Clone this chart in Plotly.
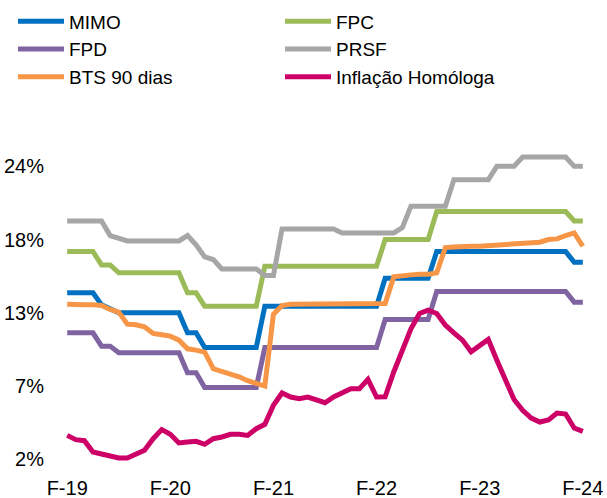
import plotly.graph_objects as go

years_months = [(2019 + (1 + i) // 12, (1 + i) % 12 + 1) for i in range(61)]
months = [f"{y}-{m:02d}" for y, m in years_months]

tick_months = ["2019-02", "2020-02", "2021-02", "2022-02", "2023-02", "2024-02"]
tick_labels = ["F-19", "F-20", "F-21", "F-22", "F-23", "F-24"]

y_ticks = [2, 7.5, 13, 18.5, 24]
y_tick_labels = ["2%", "7%", "13%", "18%", "24%"]

mimo = [14.5, 14.5, 14.5, 14.5, 13.6, 13.3,
        13.0, 13.0, 13.0, 13.0, 13.0, 13.0, 13.0, 13.0,
        11.5, 11.5,
        10.4, 10.4, 10.4, 10.4, 10.4, 10.4, 10.4,
        13.5, 13.5, 13.5, 13.5, 13.5, 13.5, 13.5, 13.5, 13.5, 13.5, 13.5, 13.5, 13.5, 13.5,
        15.6, 15.6, 15.6, 15.6, 15.6, 15.6,
        17.6, 17.6, 17.6, 17.6, 17.6, 17.6, 17.6, 17.6, 17.6, 17.6, 17.6, 17.6, 17.6, 17.6, 17.6, 17.6,
        16.8, 16.8]

fpc = [17.6, 17.6, 17.6, 17.6, 16.6, 16.6,
       16.0, 16.0, 16.0, 16.0, 16.0, 16.0, 16.0, 16.0,
       14.5, 14.5,
       13.5, 13.5, 13.5, 13.5, 13.5, 13.5, 13.5,
       16.5, 16.5, 16.5, 16.5, 16.5, 16.5, 16.5, 16.5, 16.5, 16.5, 16.5, 16.5, 16.5, 16.5,
       18.5, 18.5, 18.5, 18.5, 18.5, 18.5,
       20.6, 20.6, 20.6, 20.6, 20.6, 20.6, 20.6, 20.6, 20.6, 20.6, 20.6, 20.6, 20.6, 20.6, 20.6, 20.6,
       19.9, 19.9]

fpd = [11.5, 11.5, 11.5, 11.5, 10.5, 10.5,
       10.0, 10.0, 10.0, 10.0, 10.0, 10.0, 10.0, 10.0,
       8.5, 8.5,
       7.4, 7.4, 7.4, 7.4, 7.4, 7.4, 7.4,
       10.4, 10.4, 10.4, 10.4, 10.4, 10.4, 10.4, 10.4, 10.4, 10.4, 10.4, 10.4, 10.4, 10.4,
       12.5, 12.5, 12.5, 12.5, 12.5, 12.5,
       14.6, 14.6, 14.6, 14.6, 14.6, 14.6, 14.6, 14.6, 14.6, 14.6, 14.6, 14.6, 14.6, 14.6, 14.6, 14.6,
       13.8, 13.8]

prsf = [19.9, 19.9, 19.9, 19.9, 19.9, 18.8, 18.6,
        18.4, 18.4, 18.4, 18.4, 18.4, 18.4, 18.4,
        18.8, 18.1, 17.2, 17.0,
        16.3, 16.3, 16.3, 16.3, 16.3,
        15.8, 15.8,
        19.3, 19.3, 19.3, 19.3, 19.3, 19.3, 19.3,
        19.0, 19.0, 19.0, 19.0, 19.0, 19.0, 19.0,
        19.4,
        21.0, 21.0, 21.0, 21.0, 21.0,
        23.0, 23.0, 23.0, 23.0, 23.0,
        24.0, 24.0, 24.0,
        24.7, 24.7, 24.7, 24.7, 24.7, 24.7,
        24.0, 24.0]

bts = [13.65, 13.6, 13.6, 13.6, 13.55, 13.25, 13.05, 12.15, 12.1, 11.95,
       11.45, 11.35, 11.25, 10.95, 10.3, 10.2, 10.05, 8.8, 8.6, 8.45,
       8.2, 7.9, 7.7, 7.5, 12.9, 13.55, 13.65, 13.65, 13.65, 13.65,
       13.66, 13.66, 13.67, 13.67, 13.68, 13.68, 13.7, 13.7, 15.7, 15.8,
       15.85, 15.9, 15.9, 16.0, 17.9, 17.95, 18.0, 18.0, 18.0, 18.05,
       18.05, 18.1, 18.15, 18.2, 18.25, 18.3, 18.5, 18.55, 18.8, 19.0,
       18.0]

inflacao = [3.8, 3.48, 3.4, 2.55, 2.4, 2.23, 2.1, 2.1, 2.4, 2.68,
            3.55, 4.23, 3.88, 3.23, 3.3, 3.35, 3.13, 3.55, 3.68, 3.88,
            3.88, 3.8, 4.3, 4.63, 6.06, 6.98, 6.68, 6.55, 6.68, 6.44,
            6.25, 6.68, 6.98, 7.3, 7.3, 8.0, 6.68, 6.7, 8.56, 10.3,
            11.8, 12.95, 13.2, 12.95, 12.08, 11.5, 10.95, 10.07, 10.57, 11.0,
            9.44, 7.94, 6.49, 5.68, 5.1, 4.8, 4.95, 5.48, 5.4, 4.35,
            4.1]

series = [
    ("MIMO", mimo, "#0070C0"),
    ("FPC", fpc, "#9BBB59"),
    ("FPD", fpd, "#8064A2"),
    ("PRSF", prsf, "#A6A6A6"),
    ("BTS 90 dias", bts, "#F79646"),
    ("Inflação Homóloga", inflacao, "#CC0066"),
]

FONT = "Liberation Sans"

fig = go.Figure()
for name, vals, color in series:
    fig.add_trace(go.Scatter(
        x=months, y=vals, name=name, mode="lines",
        line=dict(color=color, width=5),
    ))

fig.update_layout(
    width=607, height=498,
    paper_bgcolor="white", plot_bgcolor="white",
    margin=dict(l=50, r=7, t=153, b=32, autoexpand=False),
    font=dict(family=FONT, size=20, color="#000000"),
    showlegend=True,
    legend=dict(
        orientation="h",
        xref="container", yref="paper",
        x=0.0214, y=1.481, xanchor="left", yanchor="top",
        entrywidth=206, entrywidthmode="pixels",
        itemwidth=46,
        font=dict(family=FONT, size=19, color="#000000"),
        bgcolor="rgba(0,0,0,0)",
    ),
    xaxis=dict(
        type="category", automargin=False,
        range=[-2, 62],
        tickmode="array", tickvals=tick_months, ticktext=tick_labels,
        showgrid=False, zeroline=False, showline=False, ticks="",
        ticklabelstandoff=8,
        tickfont=dict(family=FONT, size=20),
    ),
    yaxis=dict(
        automargin=False,
        range=[1.5, 25.0],
        tickmode="array", tickvals=y_ticks, ticktext=y_tick_labels,
        showgrid=False, zeroline=False, showline=False, ticks="",
        ticklabelstandoff=5,
        tickfont=dict(family=FONT, size=20),
    ),
)

fig.write_html("out.html", config={"displayModeBar": False},
               post_script="document.body.style.margin='0';")
